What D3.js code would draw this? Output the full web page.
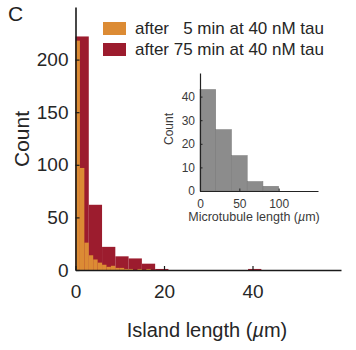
<!DOCTYPE html>
<html>
<head>
<meta charset="utf-8">
<script src="https://cdn.jsdelivr.net/npm/d3@7"></script>
<style>
  body { margin: 0; background: white; }
  svg { display: block; font-family: "Liberation Sans", Arial, Helvetica, sans-serif; }
</style>
</head>
<body>
<svg id="chart" width="356" height="350"></svg>
<script>
//island length histograms (bin start in µm, counts)
const redBinWidth = 3;
const redStarts = [0, 3, 6, 9, 12, 15, 18, 39];
const redCounts = [222, 62, 22, 13, 11, 6, 1, 1];

const orangeBinWidth = 1;
const orangeStarts = [0, 1, 2, 3, 4, 5, 6, 7, 8, 9, 10, 11, 12, 14, 16];
const orangeCounts = [218, 97, 26, 14, 10, 7, 5, 3, 4, 2, 2, 1, 1, 1, 1];

//inset: microtubule length histogram
const insetBinWidth = 20;
const insetStarts = [0, 20, 40, 60, 80];
const insetCounts = [43, 26, 15, 4, 2];

const mainXTicks = [0, 20, 40];
const mainYTicks = [0, 50, 100, 150, 200];
const insetXTicks = [0, 50, 100];
const insetYTicks = [0, 10, 20, 30, 40];

const legendLabels = ["after   5 min at 40 nM tau", "after 75 min at 40 nM tau"];
const legendColors = ["#dc8b34", "#9c1c2e"];

const svg = d3.select("#chart");

//panel letter
svg.append("text")
    .attr("x", 8)
    .attr("y", 21)
    .style("font-size", "21px")
    .style("fill", "#222")
    .text("C");

//main axes
const x = d3.scaleLinear().domain([0, 60]).range([75.5, 341]);
const y = d3.scaleLinear().domain([0, 250]).range([270, 7]);

const bins = (starts, counts, w) => starts.map((s, i) => ({ x0: s, x1: s + w, n: counts[i] }));

//red first (behind), orange on top
svg.append("g").selectAll("rect")
    .data(bins(redStarts, redCounts, redBinWidth))
    .join("rect")
    .attr("x", d => x(d.x0))
    .attr("width", d => x(d.x1) - x(d.x0))
    .attr("y", d => y(d.n))
    .attr("height", d => y(0) - y(d.n))
    .attr("fill", legendColors[1]);

svg.append("g").selectAll("rect")
    .data(bins(orangeStarts, orangeCounts, orangeBinWidth))
    .join("rect")
    .attr("x", d => x(d.x0))
    .attr("width", d => x(d.x1) - x(d.x0))
    .attr("y", d => y(d.n))
    .attr("height", d => y(0) - y(d.n))
    .attr("fill", legendColors[0]);

const gx = svg.append("g")
    .attr("transform", "translate(0,270)")
    .call(d3.axisBottom(x).tickValues(mainXTicks).tickSize(-4).tickSizeOuter(0).tickPadding(15));
const gy = svg.append("g")
    .attr("transform", "translate(75.5,0)")
    .call(d3.axisLeft(y).tickValues(mainYTicks).tickSize(-4).tickSizeOuter(0).tickPadding(7));

[gx, gy].forEach(g => {
    g.select(".domain").attr("stroke", "#1a1a1a").attr("stroke-width", 1.6);
    g.selectAll(".tick line").attr("stroke", "#1a1a1a").attr("stroke-width", 1.2);
    g.selectAll("text").style("font-size", "19px").style("fill", "#262626").style("font-family", "inherit");
});

//axis titles
svg.append("text")
    .attr("x", 207)
    .attr("y", 337)
    .attr("text-anchor", "middle")
    .style("font-size", "20px")
    .style("fill", "#262626")
    .html('Island length (<tspan font-style="italic">µ</tspan>m)');

svg.append("text")
    .attr("transform", "translate(29,139) rotate(-90)")
    .attr("text-anchor", "middle")
    .style("font-size", "21px")
    .style("fill", "#262626")
    .text("Count");

//legend
const legend = svg.append("g");
legendLabels.forEach((label, i) => {
    legend.append("rect")
        .attr("x", 103)
        .attr("y", 22 + i * 21)
        .attr("width", 23)
        .attr("height", 13)
        .attr("fill", legendColors[i]);
    legend.append("text")
        .attr("x", 135)
        .attr("y", 33.5 + i * 21)
        .attr("xml:space", "preserve")
        .style("white-space", "pre")
        .style("font-size", "17px")
        .style("fill", "#262626")
        .text(label);
});

//inset
const ix = d3.scaleLinear().domain([0, 150]).range([200, 318]);
const iy = d3.scaleLinear().domain([0, 50]).range([191, 73]);

svg.append("g").selectAll("rect")
    .data(bins(insetStarts, insetCounts, insetBinWidth))
    .join("rect")
    .attr("x", d => ix(d.x0))
    .attr("width", d => ix(d.x1) - ix(d.x0))
    .attr("y", d => iy(d.n))
    .attr("height", d => iy(0) - iy(d.n))
    .attr("fill", "#8c8c8c")
    .attr("stroke", "#777")
    .attr("stroke-width", 0.5);

const igx = svg.append("g")
    .attr("transform", "translate(0,191)")
    .call(d3.axisBottom(ix).tickValues(insetXTicks).tickSize(-2.5).tickSizeOuter(0).tickPadding(8));
const igy = svg.append("g")
    .attr("transform", "translate(200,0)")
    .call(d3.axisLeft(iy).tickValues(insetYTicks).tickSize(-2.5).tickSizeOuter(0).tickPadding(5));

[igx, igy].forEach(g => {
    g.select(".domain").attr("stroke", "#222").attr("stroke-width", 1.2);
    g.selectAll(".tick line").attr("stroke", "#222");
    g.selectAll("text").style("font-size", "12px").style("fill", "#3a3a3a").style("font-family", "inherit");
});

svg.append("text")
    .attr("x", 254)
    .attr("y", 221)
    .attr("text-anchor", "middle")
    .style("font-size", "12.5px")
    .style("fill", "#3a3a3a")
    .html('Microtubule length (<tspan font-style="italic">µ</tspan>m)');

svg.append("text")
    .attr("transform", "translate(173,129) rotate(-90)")
    .attr("text-anchor", "middle")
    .style("font-size", "12px")
    .style("fill", "#3a3a3a")
    .text("Count");
</script>
</body>
</html>
